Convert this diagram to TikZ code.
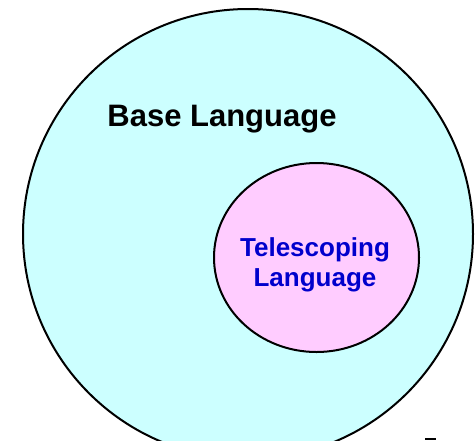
\documentclass[tikz,border=0pt]{standalone}
\usepackage{fontspec}
\setmainfont{Liberation Sans}
\usetikzlibrary{shapes.geometric}
\definecolor{basefill}{HTML}{CCFFFF}
\definecolor{telefill}{HTML}{FFCCFF}
\definecolor{teletext}{HTML}{0000CC}
\begin{document}
\begin{tikzpicture}[x=1pt, y=-1pt, line width=2pt, inner sep=0pt, font=\bfseries]
  \clip (0,0) rectangle (476,440);
  \node (base) [circle, draw, fill=basefill, minimum size=450pt] at (248,234) {};
  \node (tele) [ellipse, draw, fill=telefill, minimum width=205pt, minimum height=189pt] at (316.5,257.5) {};
  \node (basetxt) [anchor=base, font=\bfseries\fontsize{31}{36}\selectfont] at (222,126) {Base Language};
  \node (teletxt) [align=center, text=teletext, font=\bfseries\fontsize{26}{30}\selectfont] at (315,265) {Telescoping\\Language};
  \draw (425,438.5) -- (436,438.5);
\end{tikzpicture}
\end{document}
